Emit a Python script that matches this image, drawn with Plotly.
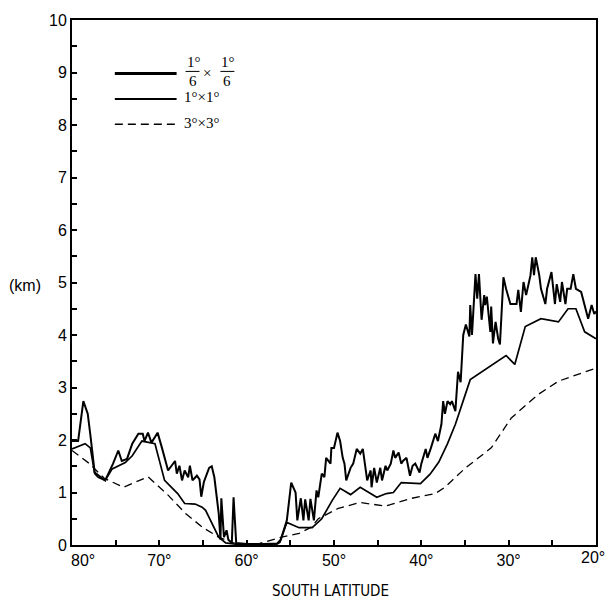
import plotly.graph_objects as go

# ---- data (south latitude in degrees, height in km) ----
lat_sixth = [80.0, 79.3, 78.7, 78.2, 77.9, 77.4, 76.2, 75.3, 74.7, 74.3, 73.7, 73.1, 72.4, 71.9, 71.7,
             71.3, 70.9, 70.2, 69.7, 69.4, 69.0, 68.6, 68.2, 68.0, 67.7, 67.4, 67.1, 66.7, 66.5, 66.2,
             65.7, 65.4, 65.2, 64.9, 64.7, 64.3, 64.0, 63.7, 63.2, 63.0, 62.9, 62.6, 62.3, 62.1, 61.7,
             61.5, 61.2, 60.0, 58.0, 56.5, 56.1, 55.4, 54.9, 54.4, 54.2, 53.8, 53.5, 53.3, 52.9, 52.7,
             52.3, 52.0, 51.8, 51.4, 51.1, 50.9, 50.4, 50.3, 50.0, 49.6, 49.3, 49.0, 48.8, 48.6, 48.1,
             47.8, 47.4, 47.0, 46.7, 46.4, 46.2, 45.8, 45.7, 45.4, 45.1, 44.7, 44.5, 44.1, 43.9, 43.5,
             43.2, 43.0, 42.6, 42.3, 42.1, 41.7, 41.3, 41.0, 40.7, 40.2, 40.0, 39.5, 39.3, 38.9, 38.4,
             38.1, 37.7, 37.5, 37.3, 37.0, 36.7, 36.5, 36.1, 35.8, 35.5, 35.2, 34.9, 34.5, 34.4, 34.2,
             33.8, 33.6, 33.4, 33.1, 32.8, 32.7, 32.5, 32.1, 32.0, 31.8, 31.5, 31.2, 31.0, 30.6, 30.3,
             29.8, 29.1, 28.9, 28.6, 28.3, 28.0, 27.5, 27.3, 27.1, 26.9, 26.5, 26.3, 25.8, 25.6, 25.1,
             24.9, 24.7, 24.5, 24.1, 23.9, 23.5, 23.3, 22.9, 22.6, 22.3, 21.7, 20.9, 20.7, 20.5, 20.2,
             20.0]
h_sixth = [1.98, 1.98, 2.74, 2.50, 2.10, 1.38, 1.23, 1.55, 1.80, 1.60, 1.64, 1.93, 2.12, 2.12, 1.98,
           2.14, 1.95, 2.14, 1.85, 1.66, 1.42, 1.51, 1.60, 1.36, 1.51, 1.23, 1.42, 1.29, 1.51, 1.23,
           1.32, 1.25, 0.92, 1.20, 1.29, 1.47, 1.50, 1.29, 0.60, 0.10, 0.89, 0.15, 0.28, 0.10, 0.04,
           0.91, 0.04, 0.02, 0.02, 0.03, 0.10, 0.47, 1.19, 1.00, 0.47, 0.89, 0.47, 0.87, 0.47, 0.88,
           0.47, 1.04, 0.91, 1.36, 1.29, 1.66, 1.55, 1.85, 1.85, 2.14, 1.98, 1.66, 1.55, 1.23, 1.47,
           1.55, 1.83, 1.74, 1.83, 1.51, 1.23, 1.42, 1.10, 1.47, 1.19, 1.47, 1.23, 1.51, 1.42, 1.55,
           1.80, 1.66, 1.76, 1.55, 1.60, 1.66, 1.32, 1.51, 1.55, 1.38, 1.55, 1.83, 1.66, 1.85, 2.12,
           1.98, 2.30, 2.74, 2.50, 2.74, 2.68, 2.74, 2.55, 3.30, 3.10, 4.00, 4.20, 3.97, 4.57, 4.00,
           5.16, 4.69, 5.16, 4.29, 4.76, 4.57, 4.73, 4.06, 4.54, 3.84, 4.25, 3.93, 3.82, 5.10, 4.88,
           4.59, 4.59, 4.86, 4.44, 5.01, 4.76, 5.14, 5.48, 5.14, 5.48, 5.14, 4.88, 4.59, 4.88, 5.20,
           4.88, 4.59, 4.97, 4.63, 5.01, 4.59, 4.88, 4.88, 5.16, 4.88, 4.82, 4.31, 4.44, 4.57, 4.40,
           4.45]

lat_one = [80.0, 78.5, 77.9, 77.4, 77.0, 76.2, 75.4, 73.9, 73.1, 72.0, 70.5, 69.4, 67.9, 67.1, 65.9,
           65.1, 64.7, 63.2, 62.4, 61.0, 58.0, 56.5, 56.2, 55.4, 54.0, 52.5, 51.4, 50.2, 49.3, 48.1,
           47.0, 45.1, 44.0, 43.2, 42.3, 40.1, 39.0, 38.0, 37.0, 36.1, 35.2, 34.4, 30.3, 29.3, 28.1,
           26.3, 24.3, 23.2, 22.3, 21.3, 20.0]
h_one = [1.83, 1.93, 1.85, 1.36, 1.29, 1.23, 1.45, 1.57, 1.70, 1.98, 1.93, 1.23, 0.98, 0.79, 0.78,
         0.72, 0.66, 0.15, 0.04, 0.01, 0.00, 0.02, 0.05, 0.43, 0.33, 0.33, 0.50, 0.85, 1.08, 0.96,
         1.10, 0.91, 0.98, 1.00, 1.19, 1.17, 1.35, 1.58, 1.93, 2.30, 2.75, 3.15, 3.61, 3.44, 4.16,
         4.31, 4.25, 4.50, 4.50, 4.06, 3.93]

lat_three = [80.0, 78.0, 76.3, 74.1, 71.3, 69.0, 67.0, 65.0, 63.2, 61.5, 60.1, 58.5, 56.0, 54.0,
             52.6, 51.8, 49.5, 47.0, 44.1, 41.1, 38.4, 37.3, 35.0, 32.0, 29.7, 26.6, 24.3, 20.0]
h_three = [1.80, 1.55, 1.27, 1.10, 1.30, 0.95, 0.60, 0.33, 0.15, 0.04, 0.00, 0.03, 0.15, 0.22,
           0.34, 0.50, 0.70, 0.81, 0.74, 0.89, 0.98, 1.10, 1.46, 1.85, 2.42, 2.87, 3.12, 3.37]

x_tick_vals = [80, 75, 70, 65, 60, 55, 50, 45, 40, 35, 30, 25, 20]
# the last label ("20°") sits at the window edge and is drawn as an annotation
x_tick_text = ["\u00a0\u00a0\u00a0\u00a0\u00a080°", "", "70°", "", "60°", "", "50°", "", "40°", "",
               "30°", "", ""]
x_edge_label = "20°"
y_tick_vals = [i * 0.5 for i in range(21)]
y_tick_text = [str(int(v)) if v == int(v) else "" for v in y_tick_vals]

fig = go.Figure()
fig.add_trace(go.Scatter(x=lat_three, y=h_three, mode="lines",
                         line=dict(color="black", width=1.3, dash="8px,5px"), showlegend=False))
fig.add_trace(go.Scatter(x=lat_one, y=h_one, mode="lines",
                         line=dict(color="black", width=1.7), showlegend=False))
fig.add_trace(go.Scatter(x=lat_sixth, y=h_sixth, mode="lines",
                         line=dict(color="black", width=2.0), showlegend=False))

# plot box at x 72..598, y 16..545 in the 610x603 window
L, R, T, B = 72, 12, 14, 58
W, H = 610, 603
pw, ph = W - L - R, H - T - B


def px(x):
    return (x - L) / pw


def py(y):
    return (H - B - y) / ph


# custom legend (decoration, paper coordinates)
shapes = [
    dict(type="line", xref="paper", yref="paper", x0=px(115), x1=px(177), y0=py(68), y1=py(68),
         line=dict(color="black", width=3)),
    dict(type="line", xref="paper", yref="paper", x0=px(115), x1=px(177), y0=py(94), y1=py(94),
         line=dict(color="black", width=2)),
    dict(type="line", xref="paper", yref="paper", x0=px(115), x1=px(177), y0=py(119.5), y1=py(119.5),
         line=dict(color="black", width=1.5, dash="8px,5px")),
    dict(type="line", xref="paper", yref="paper", x0=px(186), x1=px(200), y0=py(66), y1=py(66),
         line=dict(color="black", width=1)),
    dict(type="line", xref="paper", yref="paper", x0=px(221), x1=px(235), y0=py(66), y1=py(66),
         line=dict(color="black", width=1)),
]

serif = dict(family="Liberation Serif", size=15, color="black")
sans = dict(family="Liberation Sans", size=16, color="black")
ann = []


def txt(text, x, y, font=serif, xanchor="center"):
    ann.append(dict(text=text, xref="paper", yref="paper", x=px(x), y=py(y), showarrow=False,
                    xanchor=xanchor, yanchor="middle", font=font))


txt("1°", 194, 56)
txt("6", 193, 76)
txt("×", 208, 68)
txt("1°", 229, 56)
txt("6", 228, 76)
txt("1°×1°", 182, 92, xanchor="left")
txt("3°×3°", 182, 118, xanchor="left")
txt("(km)", 25, 283, font=sans)
txt("SOUTH LATITUDE", 331, 592, font=dict(family="DejaVu Sans Condensed", size=15, color="black"))
txt(x_edge_label, 609.5, 558, font=sans, xanchor="right")

axis_common = dict(showgrid=False, zeroline=False, showline=True, mirror=True, linecolor="black",
                   linewidth=2, ticks="inside", ticklen=5, tickwidth=1.5, tickcolor="black",
                   tickfont=sans)

fig.update_layout(
    width=W, height=H,
    margin=dict(l=L, r=R, t=T, b=B),
    plot_bgcolor="white", paper_bgcolor="white",
    hovermode=False,
    xaxis=dict(range=[80, 20], tickmode="array", tickvals=x_tick_vals, ticktext=x_tick_text,
               **axis_common),
    yaxis=dict(range=[0, 10], tickmode="array", tickvals=y_tick_vals, ticktext=y_tick_text,
               **axis_common),
    shapes=shapes,
    annotations=ann,
)

# pin the figure to the window's top-left corner (no default page margin)
pin = ("document.documentElement.style.margin='0';document.body.style.margin='0';"
       "document.body.style.overflow='hidden';"
       "var g=document.getElementsByClassName('plotly-graph-div')[0];"
       "g.style.position='fixed';g.style.left='0px';g.style.top='0px';")

fig.write_html("out.html", post_script=pin, config={"displayModeBar": False})
